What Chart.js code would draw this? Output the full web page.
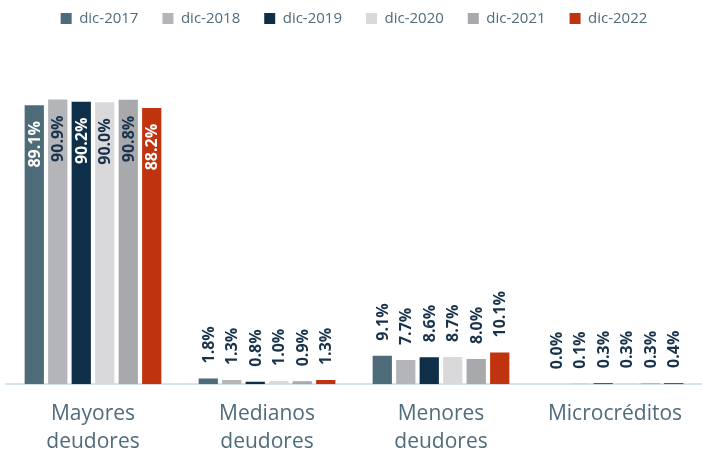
<!DOCTYPE html>
<html>
<head>
<meta charset="utf-8">
<script src="https://cdn.jsdelivr.net/npm/chart.js@4"></script>
<style>
  body { margin: 0; background: #ffffff; }
  #wrap { width: 702px; height: 455px; }
</style>
</head>
<body>
<div id="wrap"><canvas id="chart" width="702" height="455"></canvas></div>
<script>
// Categories and series (values in %)
const categories = [['Mayores', 'deudores'], ['Medianos', 'deudores'], ['Menores', 'deudores'], ['Microcréditos']];
const seriesNames = ['dic-2017', 'dic-2018', 'dic-2019', 'dic-2020', 'dic-2021', 'dic-2022'];
const dic2017 = [89.1, 1.8, 9.1, 0.0];
const dic2018 = [90.9, 1.3, 7.7, 0.1];
const dic2019 = [90.2, 0.8, 8.6, 0.3];
const dic2020 = [90.0, 1.0, 8.7, 0.3];
const dic2021 = [90.8, 0.9, 8.0, 0.3];
const dic2022 = [88.2, 1.3, 10.1, 0.4];

const barColors = ['#4e6b7a', '#b3b5b8', '#0f2f48', '#d9d9db', '#a7a9ad', '#c0330f'];
// label colour when drawn inside the bar
const insideColors = ['#ffffff', '#17324a', '#ffffff', '#17324a', '#17324a', '#ffffff'];
const outsideColor = '#17324a';
const textColor = '#4f6b7c';

const allSeries = [dic2017, dic2018, dic2019, dic2020, dic2021, dic2022];

// Draw rotated value labels
const valueLabels = {
    id: 'valueLabels',
    afterDatasetsDraw(chart) {
        const ctx = chart.ctx;
        ctx.save();
        ctx.font = 'bold 16px "Open Sans", sans-serif';
        ctx.textBaseline = 'middle';
        chart.data.datasets.forEach((ds, i) => {
            const meta = chart.getDatasetMeta(i);
            meta.data.forEach((bar, j) => {
                const v = ds.data[j];
                const text = v.toFixed(1) + '%';
                ctx.save();
                if (v > 50) {
                    ctx.translate(bar.x, bar.y + 16);
                    ctx.rotate(-Math.PI / 2);
                    ctx.textAlign = 'right';
                    ctx.fillStyle = insideColors[i];
                } else {
                    ctx.translate(bar.x, bar.y - 15);
                    ctx.rotate(-Math.PI / 2);
                    ctx.textAlign = 'left';
                    ctx.fillStyle = outsideColor;
                }
                ctx.fillText(text, 0, 1);
                ctx.restore();
            });
        });
        ctx.restore();
    }
};

// Give the legend extra room below it
const legendSpace = {
    id: 'legendSpace',
    beforeInit(chart) {
        const origFit = chart.legend.fit;
        chart.legend.fit = function () {
            origFit.call(this);
            this.height += 35;
        };
    }
};

new Chart(document.getElementById('chart'), {
    type: 'bar',
    data: {
        labels: categories,
        datasets: seriesNames.map((name, i) => ({
            label: name,
            data: allSeries[i],
            backgroundColor: barColors[i],
            categoryPercentage: 0.81,
            barPercentage: 0.82
        }))
    },
    options: {
        responsive: false,
        animation: false,
        layout: { padding: { left: 6, right: 0, top: -13, bottom: -17 } },
        scales: {
            y: {
                display: false,
                min: 0,
                max: 100
            },
            x: {
                grid: { display: false, drawTicks: false },
                border: { color: '#d6e4f0', width: 2 },
                ticks: {
                    color: textColor,
                    padding: 16,
                    font: { family: '"Open Sans", sans-serif', size: 21, lineHeight: 1.33 }
                }
            }
        },
        plugins: {
            legend: {
                position: 'top',
                labels: {
                    color: textColor,
                    boxWidth: 11,
                    boxHeight: 11,
                    padding: 24,
                    font: { family: '"Open Sans", sans-serif', size: 15 }
                }
            },
            tooltip: { enabled: false }
        }
    },
    plugins: [valueLabels, legendSpace]
});
</script>
</body>
</html>
